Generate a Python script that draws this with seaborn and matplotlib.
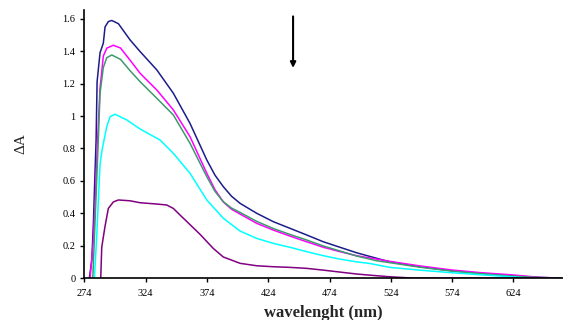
import numpy as np
import pandas as pd
import matplotlib
matplotlib.use("Agg")
import matplotlib.pyplot as plt
import seaborn as sns

# --- data (wavelength nm, absorbance change) ---
wl_navy = [278.0, 280.0, 281.3, 282.6, 283.5, 284.3, 286.7, 289.4, 290.8, 293.5, 296.3, 301.7,
           311.2, 319.4, 333.0, 346.5, 360.1, 373.8, 380.5, 387.3, 394.0, 401.0, 414.5, 428.1, 441.7,
           455.3, 468.9, 482.5, 496.1, 512.4, 523.2, 547.7, 573.6, 598.0, 622.6, 645.6, 663.0]
a_navy = [0.0, 0.11, 0.34, 0.65, 0.85, 1.21, 1.39, 1.45, 1.55, 1.583, 1.59, 1.57,
          1.47, 1.398, 1.285, 1.141, 0.955, 0.729, 0.635, 0.564, 0.505, 0.461, 0.40, 0.348, 0.307,
          0.266, 0.224, 0.19, 0.156, 0.122, 0.10, 0.07, 0.045, 0.029, 0.014, 0.004, 0.0]

wl_pink = [278.6, 281.3, 283.2, 284.0, 286.7, 289.4, 292.2, 297.6, 303.4, 311.2, 319.4, 333.0,
           346.5, 360.1, 373.8, 380.5, 387.3, 394.0, 401.0, 414.5, 428.1, 441.7, 455.3, 468.9, 482.5,
           496.1, 512.4, 523.2, 547.7, 573.6, 598.0, 622.6, 645.6, 663.0]
a_pink = [0.0, 0.235, 0.55, 0.73, 1.17, 1.37, 1.419, 1.437, 1.42, 1.345, 1.264, 1.161,
          1.038, 0.873, 0.647, 0.545, 0.47, 0.425, 0.395, 0.338, 0.296, 0.259, 0.224, 0.19, 0.163,
          0.138, 0.117, 0.103, 0.075, 0.05, 0.033, 0.02, 0.004, 0.0]

wl_green = [280.8, 282.6, 285.3, 286.7, 289.4, 292.2, 296.3, 303.4, 311.2, 319.4, 333.0,
            346.5, 360.1, 373.8, 380.5, 387.3, 394.0, 401.0, 414.5, 428.1, 441.7, 455.3, 468.9, 482.5,
            496.1, 512.4, 523.2, 547.7, 573.6, 598.0, 622.6, 645.6, 663.0]
a_green = [0.0, 0.34, 0.85, 1.14, 1.30, 1.36, 1.377, 1.35, 1.28, 1.212, 1.11,
           1.007, 0.832, 0.626, 0.535, 0.471, 0.432, 0.405, 0.35, 0.306, 0.269, 0.235, 0.198, 0.167,
           0.136, 0.107, 0.095, 0.067, 0.043, 0.027, 0.012, 0.003, 0.0]

wl_cyan = [282.1, 284.0, 286.7, 288.1, 292.2, 294.9, 299.0, 308.5, 319.4, 335.7, 346.5,
           360.1, 373.8, 387.3, 401.0, 414.5, 428.1, 441.7, 455.3, 468.9, 482.5, 496.1,
           506.8, 523.2, 547.7, 573.6, 598.0, 622.6, 637.0, 663.0]
a_cyan = [0.0, 0.255, 0.70, 0.78, 0.935, 0.996, 1.011, 0.976, 0.92, 0.852, 0.77,
          0.647, 0.482, 0.369, 0.29, 0.245, 0.214, 0.19, 0.163, 0.138, 0.117, 0.10,
          0.09, 0.066, 0.049, 0.033, 0.02, 0.008, 0.0, 0.0]

wl_purple = [287.3, 288.1, 290.8, 293.5, 297.6, 301.7, 311.2, 319.4, 333.0, 341.1, 346.5,
             352.0, 360.1, 368.3, 379.1, 387.3, 401.0, 414.5, 428.1, 441.7, 455.3,
             468.9, 482.5, 496.1, 506.8, 523.2, 542.0, 663.0]
a_purple = [0.0, 0.19, 0.32, 0.43, 0.47, 0.482, 0.477, 0.465, 0.457, 0.451, 0.43,
            0.389, 0.33, 0.27, 0.183, 0.13, 0.091, 0.076, 0.07, 0.066, 0.06,
            0.049, 0.037, 0.025, 0.018, 0.008, 0.0, 0.0]

x_ticks = [274, 324, 374, 424, 474, 524, 574, 624]
y_ticks = [0, 0.2, 0.4, 0.6, 0.8, 1.0, 1.2, 1.4, 1.6]
y_tick_labels = ["0", "0.2", "0.4", "0.6", "0.8", "1", "1.2", "1.4", "1.6"]

series = [
    ("s1", wl_navy, a_navy, "#1c1c8a"),
    ("s2", wl_pink, a_pink, "#ff00ff"),
    ("s3", wl_green, a_green, "#3d9a6e"),
    ("s4", wl_cyan, a_cyan, "#00ffff"),
    ("s5", wl_purple, a_purple, "#800080"),
]

frames = []
for name, xs, ys, _ in series:
    frames.append(pd.DataFrame({"wl": xs, "A": ys, "s": name}))
df = pd.concat(frames, ignore_index=True)
palette = {name: c for name, _, _, c in series}

sns.set_style("ticks")
plt.rcParams["font.family"] = ["Liberation Serif", "DejaVu Serif"]

fig = plt.figure(figsize=(5.63, 3.2), dpi=100)
ax = fig.add_axes([0.15, 0.131, 0.85, 0.838])

sns.lineplot(data=df, x="wl", y="A", hue="s", palette=palette, ax=ax,
             legend=False, linewidth=1.1, sort=False, estimator=None)

ax.set_xlim(274, 664.4)
ax.set_ylim(0, 1.655)
ax.set_xticks(x_ticks)
ax.set_xticklabels([str(t) for t in x_ticks])
ax.set_yticks(y_ticks)
ax.set_yticklabels(y_tick_labels)
ax.tick_params(axis="both", labelsize=7.5, length=3, width=1, direction="out", colors="black")
ax.tick_params(axis="x", pad=5)
for side in ["top", "right"]:
    ax.spines[side].set_visible(False)
for side in ["left", "bottom"]:
    ax.spines[side].set_linewidth(1.2)
    ax.spines[side].set_color("black")

ax.set_xlabel("wavelenght (nm)", fontsize=12, fontweight="bold", labelpad=5)
ax.set_ylabel("ΔA", fontsize=11, labelpad=25)

ax.annotate("", xy=(444.2, 1.297), xytext=(444.2, 1.615),
            arrowprops=dict(arrowstyle="-|>", color="black", lw=1.5,
                            mutation_scale=8, shrinkA=0, shrinkB=0))

fig.savefig("out.png", dpi=100)
